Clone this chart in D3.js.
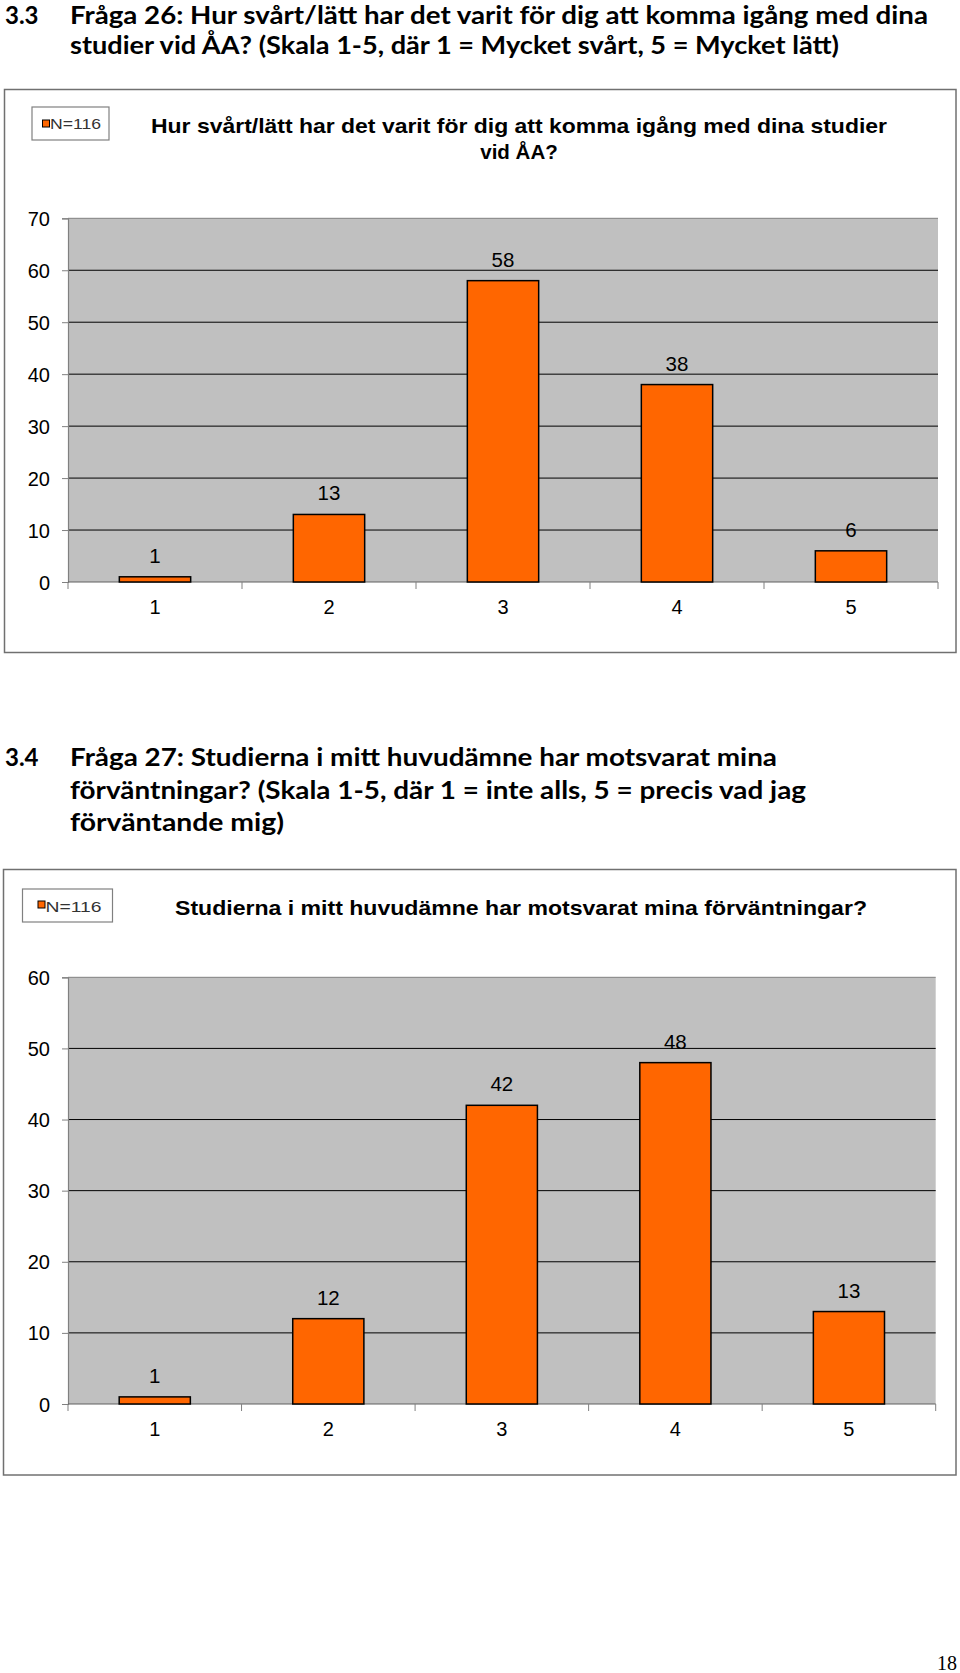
<!DOCTYPE html>
<html>
<head>
<meta charset="utf-8">
<script src="https://cdn.jsdelivr.net/npm/d3@7"></script>
<style>
  html, body { margin: 0; padding: 0; background: #fff; }
  svg { display: block; }
</style>
</head>
<body>
<script>
// ---------- data ----------
const categories = ["1", "2", "3", "4", "5"];
const values26 = [1, 13, 58, 38, 6];
const values27 = [1, 12, 42, 48, 13];
const yTicks26 = [0, 10, 20, 30, 40, 50, 60, 70];
const yTicks27 = [0, 10, 20, 30, 40, 50, 60];
const legendLabel = "N=116";

const heading26 = ["Fråga 26: Hur svårt/lätt har det varit för dig att komma igång med dina",
                   "studier vid ÅA? (Skala 1-5, där 1 = Mycket svårt, 5 = Mycket lätt)"];
const heading27 = ["Fråga 27: Studierna i mitt huvudämne har motsvarat mina",
                   "förväntningar? (Skala 1-5,  där 1 = inte alls, 5 = precis vad jag",
                   "förväntande mig)"];
const title26 = ["Hur svårt/lätt har det varit för dig att komma  igång med  dina studier", "vid ÅA?"];
const title27 = ["Studierna i mitt huvudämne har motsvarat mina förväntningar?"];
const pageNumber = "18";

// ---------- setup ----------
const W = 960, H = 1673;
const svg = d3.select("body").append("svg")
  .attr("width", W).attr("height", H)
  .style("font-family", "Arial, 'Liberation Sans', sans-serif");
svg.append("rect").attr("width", W).attr("height", H).attr("fill", "#fff");

const headFont = "Lato, 'Open Sans', sans-serif";

function heading(num, lines, y0, lineH, widths) {
  const g = svg.append("g").attr("font-family", headFont).attr("font-weight", 700)
    .attr("font-size", 24).attr("fill", "#000");
  g.append("text").attr("x", 5).attr("y", y0).text(num);
  lines.forEach((t, i) => {
    g.append("text").attr("x", 70).attr("y", y0 + i * lineH)
      .attr("textLength", widths[i]).attr("lengthAdjust", "spacingAndGlyphs")
      .text(t);
  });
}

heading("3.3", heading26, 24, 29.5, [858, 769]);
heading("3.4", heading27, 766, 32.5, [707, 736, 214]);

function chart(cfg) {
  const g = svg.append("g");
  // outer frame
  g.append("rect")
    .attr("x", cfg.frame[0]).attr("y", cfg.frame[1])
    .attr("width", cfg.frame[2] - cfg.frame[0]).attr("height", cfg.frame[3] - cfg.frame[1])
    .attr("fill", "#fff").attr("stroke", "#707070").attr("stroke-width", 1.5);

  // legend
  const lg = cfg.legend;
  g.append("rect").attr("x", lg.x0).attr("y", lg.y0)
    .attr("width", lg.x1 - lg.x0).attr("height", lg.y1 - lg.y0)
    .attr("fill", "#fff").attr("stroke", "#808080").attr("stroke-width", 1.2);
  g.append("rect").attr("x", lg.sx).attr("y", lg.sy).attr("width", 7).attr("height", 7)
    .attr("fill", "#FF6600").attr("stroke", "#000").attr("stroke-width", 1);
  g.append("text").attr("x", lg.tx).attr("y", lg.ty)
    .attr("font-size", 15).attr("fill", "#333")
    .attr("textLength", lg.tw).attr("lengthAdjust", "spacingAndGlyphs")
    .text(legendLabel);

  // title
  cfg.title.forEach((t, i) => {
    const tt = g.append("text").attr("x", cfg.titleX).attr("y", cfg.titleY + i * 26)
      .attr("text-anchor", "middle").attr("font-weight", 700).attr("font-size", 20.5)
      .attr("fill", "#000").text(t);
    if (i === 0) tt.attr("textLength", cfg.titleW).attr("lengthAdjust", "spacingAndGlyphs");
  });

  const p = cfg.plot;
  const x = d3.scaleBand().domain(categories).range([p.x0, p.x1])
    .paddingInner(0.59).paddingOuter(0.295);
  const xb = d3.scaleBand().domain(categories).range([p.x0, p.x1]).padding(0);
  const y = d3.scaleLinear().domain([0, d3.max(cfg.ticks)]).range([p.y1, p.y0]);

  // plot background
  g.append("rect").attr("x", p.x0).attr("y", p.y0)
    .attr("width", p.x1 - p.x0).attr("height", p.y1 - p.y0).attr("fill", "#C0C0C0");

  // gridlines
  g.selectAll(".grid").data(cfg.ticks.filter(t => t > 0 && t < d3.max(cfg.ticks)))
    .join("line")
    .attr("x1", p.x0).attr("x2", p.x1)
    .attr("y1", d => y(d)).attr("y2", d => y(d))
    .attr("stroke", "#000").attr("stroke-width", 1);
  // top border
  g.append("line").attr("x1", p.x0).attr("x2", p.x1)
    .attr("y1", y(d3.max(cfg.ticks))).attr("y2", y(d3.max(cfg.ticks)))
    .attr("stroke", "#808080").attr("stroke-width", 1);

  // y axis
  const ya = d3.axisLeft(y).tickValues(cfg.ticks).tickSize(6).tickPadding(12).tickFormat(d3.format("d"));
  const yg = g.append("g").attr("transform", `translate(${p.x0},0)`).call(ya);
  yg.select(".domain").attr("stroke", "#808080").attr("stroke-width", 1.2);
  yg.selectAll(".tick line").attr("stroke", "#808080");
  yg.selectAll(".tick text").attr("font-size", 20).attr("fill", "#000")
    .attr("font-family", "Arial, 'Liberation Sans', sans-serif").attr("dy", "0.35em");

  // x axis baseline and ticks at band boundaries
  g.append("line").attr("x1", p.x0).attr("x2", p.x1).attr("y1", p.y1).attr("y2", p.y1)
    .attr("stroke", "#606060").attr("stroke-width", 1.2);
  const bounds = categories.map(c => xb(c)).concat([p.x1]);
  g.selectAll(".xt").data(bounds).join("line")
    .attr("x1", d => d).attr("x2", d => d).attr("y1", p.y1).attr("y2", p.y1 + 7)
    .attr("stroke", "#808080").attr("stroke-width", 1);
  g.selectAll(".xl").data(categories).join("text")
    .attr("x", d => xb(d) + xb.bandwidth() / 2).attr("y", p.y1 + 32)
    .attr("text-anchor", "middle").attr("font-size", 20).attr("fill", "#000")
    .text(d => d);

  // bars
  g.selectAll(".bar").data(cfg.values).join("rect")
    .attr("x", (d, i) => x(categories[i])).attr("width", x.bandwidth())
    .attr("y", d => y(d)).attr("height", d => y(0) - y(d))
    .attr("fill", "#FF6600").attr("stroke", "#000").attr("stroke-width", 1.5);

  // value labels
  g.selectAll(".vl").data(cfg.values).join("text")
    .attr("x", (d, i) => x(categories[i]) + x.bandwidth() / 2)
    .attr("y", d => y(d) - 14)
    .attr("text-anchor", "middle").attr("font-size", 20.5).attr("fill", "#000")
    .text(d => d);
}

chart({
  frame: [4.5, 89.5, 956, 652.5],
  legend: { x0: 32, y0: 107, x1: 109, y1: 140, sx: 42.5, sy: 120, tx: 50, ty: 128.5, tw: 51 },
  title: title26, titleX: 519, titleY: 133, titleW: 736,
  plot: { x0: 68, x1: 938, y0: 218.3, y1: 582 },
  ticks: yTicks26, values: values26
});

chart({
  frame: [3.5, 869.5, 956, 1475],
  legend: { x0: 22.5, y0: 889, x1: 112.5, y1: 922, sx: 38, sy: 901, tx: 45.5, ty: 912, tw: 56 },
  title: title27, titleX: 521, titleY: 915, titleW: 692,
  plot: { x0: 68, x1: 935.7, y0: 977.3, y1: 1404 },
  ticks: yTicks27, values: values27
});

svg.append("text").attr("x", 957).attr("y", 1670).attr("text-anchor", "end")
  .attr("font-family", "'Liberation Serif', 'Times New Roman', serif").attr("font-size", 20)
  .attr("fill", "#000").text(pageNumber);
</script>
</body>
</html>
